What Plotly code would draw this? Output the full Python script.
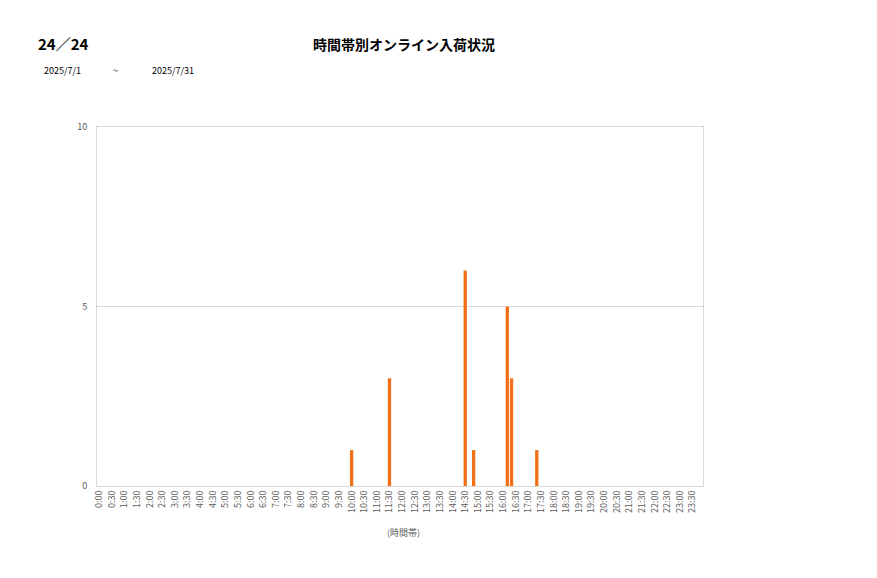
import plotly.graph_objects as go

# 10-minute time slots, labelled every 30 minutes
slots = ["%d:%02d" % (h, m) for h in range(24) for m in (0, 10, 20, 30, 40, 50)]
tick_labels = ["%d:%02d" % (h, m) for h in range(24) for m in (0, 30)]

bar_times = ["10:00", "11:30", "14:30", "14:50", "16:10", "16:20", "17:20"]
bar_counts = [1, 3, 6, 1, 5, 3, 1]

title_text = "時間帯別オンライン入荷状況"
page_text = "24／24"
date_from = "2025/7/1"
date_to = "2025/7/31"

# the page puts the figure 8px in from the top left corner
OFF = 8
W, H = 877 - OFF, 578 - OFF
L, R, T, B = 97 - OFF, 703 - OFF, 127 - OFF, 486 - OFF
FONT = "Noto Sans CJK JP, Meiryo, sans-serif"


def px(x):
    return (x - OFF - L) / (R - L)


def py(y):
    return (B - (y - OFF)) / (B - T)


fig = go.Figure()
fig.add_trace(go.Bar(x=bar_times, y=bar_counts, marker_color="#F36F16",
                     marker_line_width=0, hoverinfo="x+y"))

fig.update_layout(
    width=W, height=H,
    margin=dict(l=L, r=W - R, t=T, b=H - B),
    plot_bgcolor="white", paper_bgcolor="white",
    bargap=0.22, showlegend=False,
    font=dict(family=FONT, color="#595959", size=9),
)
fig.update_xaxes(type="category", categoryorder="array", categoryarray=slots,
                 range=[-0.5, len(slots) - 0.5],
                 tickmode="array", tickvals=tick_labels, ticktext=tick_labels,
                 tickangle=-90, tickfont=dict(size=9, color="#595959"),
                 showgrid=False, showline=True, linecolor="#d9d9d9", mirror=True,
                 ticks="", zeroline=False)
fig.update_yaxes(range=[0, 10], tickvals=[0, 5, 10], showgrid=True, gridcolor="#d9d9d9",
                 showline=True, linecolor="#d9d9d9", mirror=True, ticks="",
                 tickfont=dict(size=9, color="#595959"), zeroline=False,
                 ticklabelstandoff=7)


def label(text, x, y, size, color, anchor="left"):
    fig.add_annotation(text=text, x=px(x), y=py(y), xref="paper", yref="paper",
                       xanchor=anchor, yanchor="middle", showarrow=False,
                       font=dict(size=size, color=color, family=FONT))


label("<b>" + title_text + "</b>", 404, 44, 14, "#000000", "center")
label("<b>" + page_text + "</b>", 36, 44, 15, "#000000")
label(date_from, 42, 71, 9, "#000000")
label("~", 115, 71, 9, "#000000", "center")
label(date_to, 150, 71, 9, "#000000")
label("(時間帯)", 403, 532, 9, "#595959", "center")

fig.write_html("out.html")
